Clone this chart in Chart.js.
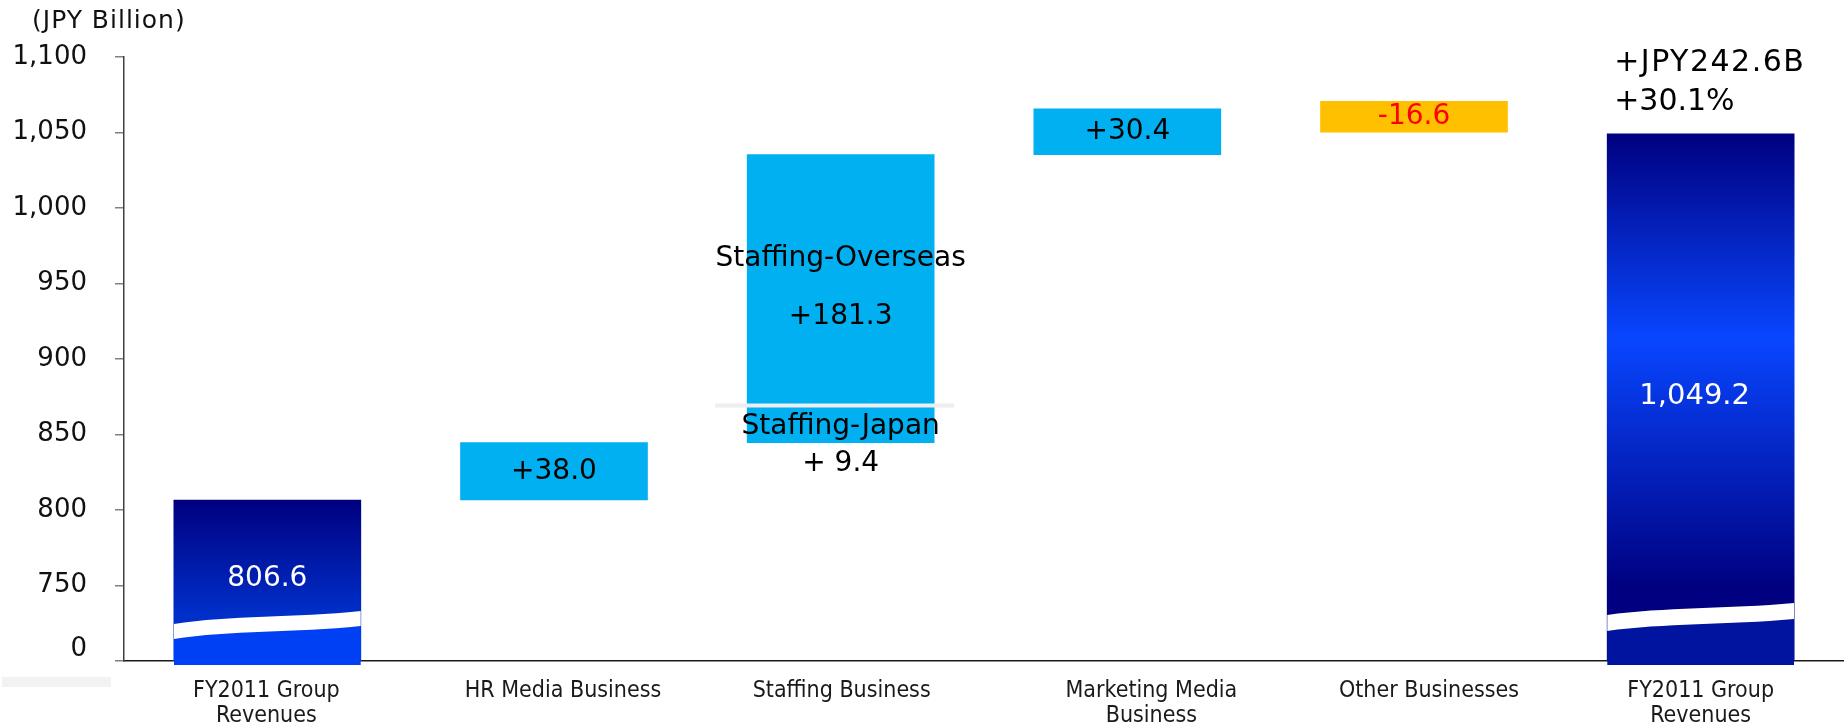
<!DOCTYPE html>
<html>
<head>
<meta charset="utf-8">
<title>Revenue bridge</title>
<script src="https://cdn.jsdelivr.net/npm/chart.js@4.4.1/dist/chart.umd.min.js"></script>
<style>
    html, body { margin: 0; padding: 0; background: #fff; }
    #wrap { position: relative; width: 1844px; height: 727px; }
</style>
</head>
<body>
<div id="wrap"><canvas id="bridgeChart"></canvas></div>
<script>
// Categories along the x axis
const categories = [
    ['FY2011 Group', 'Revenues'],
    ['HR Media Business'],
    ['Staffing Business'],
    ['Marketing Media', 'Business'],
    ['Other Businesses'],
    ['FY2011 Group', 'Revenues']
];

// Floating bar ends (JPY billion). 700 sits on the axis and stands for the 0 below the break.
const barStart = [700, 806.6, 844.6, 1035.3, 1050.3, 700];
const barEnd = [806.6, 844.6, 1035.3, 1065.7, 1070.6, 1049.2];

// Value texts on the bars
const barLabels = ['806.6', '+38.0', '+181.3', '+30.4', '-16.6', '1,049.2'];

// Staffing bar is split into Japan (lower) and Overseas (upper)
const staffingSplit = 869.2;
const staffingNames = ['Staffing-Overseas', 'Staffing-Japan'];
const staffingJapanLabel = '+ 9.4';

// Total change shown over the last bar
const totalChange = ['+JPY242.6B', '+30.1%'];

// Y axis
const yMin = 700;
const yMax = 1100;
const yStep = 50;
const yBreakLabel = '0';
const unitLabel = '(JPY Billion)';

const FONT = "'DejaVu Sans', Verdana, sans-serif";
const CAT_FONT = "'DejaVu Sans Condensed', 'DejaVu Sans', sans-serif";
const TICK_PAD = 28;
const TICK_LEN = 9;

document.addEventListener('DOMContentLoaded', function() {
    initBridgeChart();
});

/**
 * Fill for each bar: gradients for the totals, flat colours for the steps
 */
function barFill(context) {
    const i = context.dataIndex;
    const chart = context.chart;
    if (i === 4) return '#FFC000';
    if (i > 0 && i < 5) return '#00B0F0';
    if (!chart.chartArea) return '#0020c0';

    const y = chart.scales.y;
    const top = y.getPixelForValue(barEnd[i]);
    const bottom = y.getPixelForValue(barStart[i]);
    const g = chart.ctx.createLinearGradient(0, top, 0, bottom);
    if (i === 0) {
        g.addColorStop(0, '#000080');
        g.addColorStop(0.7, '#002ec8');
        g.addColorStop(1, '#0036d8');
    } else {
        g.addColorStop(0, '#000080');
        g.addColorStop(0.39, '#0846ff');
        g.addColorStop(0.86, '#000080');
        g.addColorStop(1, '#000080');
    }
    return g;
}

/**
 * White "cut" wave at the foot of a total bar, with the colour below it
 */
function drawWave(ctx, el, offs, thick, lowColor) {
    const L = el.x - el.width / 2;
    const R = el.x + el.width / 2;
    const w = R - L;
    const b = el.base;

    function edge(dy, reverse) {
        const p = [
            [L, b - offs[0] + dy],
            [L + 0.3 * w, b - offs[1] + dy],
            [L + 0.65 * w, b - offs[2] + dy],
            [R, b - offs[3] + dy]
        ];
        if (reverse) p.reverse();
        return p;
    }

    ctx.save();
    ctx.beginPath();
    ctx.rect(L, el.y, w, b - el.y + 4);
    ctx.clip();

    // part below the wave
    const p = edge(thick, false);
    ctx.beginPath();
    ctx.moveTo(p[0][0], p[0][1]);
    ctx.bezierCurveTo(p[1][0], p[1][1], p[2][0], p[2][1], p[3][0], p[3][1]);
    ctx.lineTo(R, b + 4);
    ctx.lineTo(L, b + 4);
    ctx.closePath();
    ctx.fillStyle = lowColor;
    ctx.fill();

    // white band
    const up = edge(0, false);
    const down = edge(thick, true);
    ctx.beginPath();
    ctx.moveTo(up[0][0], up[0][1]);
    ctx.bezierCurveTo(up[1][0], up[1][1], up[2][0], up[2][1], up[3][0], up[3][1]);
    ctx.lineTo(down[0][0], down[0][1]);
    ctx.bezierCurveTo(down[1][0], down[1][1], down[2][0], down[2][1], down[3][0], down[3][1]);
    ctx.closePath();
    ctx.fillStyle = '#ffffff';
    ctx.fill();
    ctx.restore();
}

function text(ctx, str, x, y, font, color, align) {
    ctx.font = font;
    ctx.fillStyle = color;
    ctx.textAlign = align || 'center';
    ctx.textBaseline = 'middle';
    ctx.fillText(str, x, y);
}

const bridgeDecor = {
    id: 'bridgeDecor',
    beforeDraw(chart) {
        const ctx = chart.ctx;
        ctx.save();
        ctx.fillStyle = '#f2f2f2';
        ctx.fillRect(2, chart.chartArea.bottom + 16, 109, 10);
        ctx.restore();
    },
    afterDatasetsDraw(chart) {
        const ctx = chart.ctx;
        const els = chart.getDatasetMeta(0).data;
        const y = chart.scales.y;

        drawWave(ctx, els[0], [37, 46, 43, 50], 15, '#0040f5');
        drawWave(ctx, els[5], [46, 54, 52, 58], 16, '#0014a0');

        // line between Staffing-Japan and Staffing-Overseas
        const st = els[2];
        const sy = y.getPixelForValue(staffingSplit);
        ctx.save();
        ctx.strokeStyle = '#eeeeee';
        ctx.lineWidth = 4;
        ctx.beginPath();
        ctx.moveTo(st.x - st.width / 2 - 32, sy);
        ctx.lineTo(st.x + st.width / 2 + 20, sy);
        ctx.stroke();
        ctx.restore();
    },
    afterDraw(chart) {
        const ctx = chart.ctx;
        const area = chart.chartArea;
        const els = chart.getDatasetMeta(0).data;
        const x = chart.scales.x;
        const y = chart.scales.y;
        const big = '28px ' + FONT;

        ctx.save();

        // unit and the broken-axis zero
        ctx.letterSpacing = '1px';
        text(ctx, unitLabel, 32, 21, '25px ' + FONT, '#111', 'left');
        ctx.letterSpacing = '0px';
        text(ctx, yBreakLabel, area.left - TICK_LEN - TICK_PAD, y.getPixelForValue(yMin) - 12, '26px ' + FONT, '#111', 'right');

        // bar values
        text(ctx, barLabels[0], els[0].x, els[0].base - 82, big, '#ffffff');
        [1, 3].forEach(i => {
            text(ctx, barLabels[i], els[i].x, (els[i].y + els[i].base) / 2, big, '#000');
        });
        text(ctx, barLabels[4], els[4].x, (els[4].y + els[4].base) / 2, big, '#ff0000');
        text(ctx, barLabels[5], els[5].x - 6, els[5].y + 263, '29px ' + FONT, '#ffffff');

        // staffing parts
        const st = els[2];
        const sy = y.getPixelForValue(staffingSplit);
        text(ctx, staffingNames[0], st.x, st.y + 104, big, '#000');
        text(ctx, barLabels[2], st.x, st.y + 162, big, '#000');
        text(ctx, staffingNames[1], st.x, sy + 21, big, '#000');
        text(ctx, staffingJapanLabel, st.x, st.base + 21, big, '#000');

        // total change
        const last = els[5];
        const tx = last.x - last.width / 2 + 7;
        ctx.letterSpacing = '1.5px';
        text(ctx, totalChange[0], tx, last.y - 71, '30px ' + FONT, '#000', 'left');
        ctx.letterSpacing = '0px';
        text(ctx, totalChange[1], tx, last.y - 32, '30px ' + FONT, '#000', 'left');

        // category labels
        const shift = [-1, 9, 1, 24, 15, 0];
        categories.forEach((lines, i) => {
            const cx = x.getPixelForValue(i) + shift[i];
            lines.forEach((line, j) => {
                text(ctx, line, cx, area.bottom + 30 + j * 25, '23px ' + CAT_FONT, '#1a1a1a');
            });
        });

        ctx.restore();
    }
};

/**
 * Build the bridge (waterfall) chart
 */
function initBridgeChart() {
    const canvas = document.getElementById('bridgeChart');
    if (!canvas) return;

    new Chart(canvas, {
        type: 'bar',
        data: {
            labels: categories,
            datasets: [{
                data: barStart.map((s, i) => [s, barEnd[i]]),
                backgroundColor: barFill,
                borderWidth: 0,
                barThickness: 187
            }]
        },
        options: {
            responsive: true,
            maintainAspectRatio: false,
            animation: false,
            devicePixelRatio: 1,
            layout: { padding: { top: 57, left: 0, right: 0, bottom: 0 } },
            plugins: {
                legend: { display: false },
                tooltip: { enabled: false }
            },
            scales: {
                x: {
                    z: 1,
                    grid: { display: false },
                    border: { display: true, color: '#1a1a1a', width: 1.5 },
                    ticks: { display: false },
                    afterFit: s => { s.height = 66; }
                },
                y: {
                    min: yMin,
                    max: yMax,
                    grid: {
                        drawOnChartArea: false,
                        drawTicks: true,
                        tickLength: TICK_LEN,
                        color: '#808080',
                        lineWidth: 1.5
                    },
                    border: { display: true, color: '#404040', width: 1.5 },
                    ticks: {
                        stepSize: yStep,
                        padding: TICK_PAD,
                        color: '#111',
                        font: { family: FONT, size: 26 },
                        callback: v => (v === yMin ? '' : v.toLocaleString('en-US'))
                    },
                    afterFit: s => { s.width = 124; }
                }
            }
        },
        plugins: [bridgeDecor]
    });
}
</script>
</body>
</html>
